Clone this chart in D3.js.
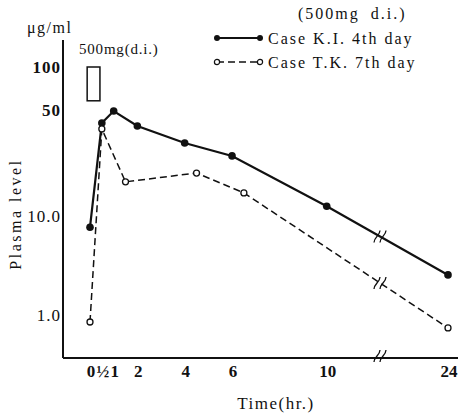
<!DOCTYPE html>
<html>
<head>
<meta charset="utf-8">
<script src="https://cdn.jsdelivr.net/npm/d3@7"></script>
<style>
  body { margin: 0; background: #fff; }
  svg text { font-family: "Liberation Serif", "DejaVu Serif", serif; fill: #111; }
</style>
</head>
<body>
<svg width="461" height="415"></svg>
<script>
//
// data (hours, ug/ml)
//
var timesKI = [0, 0.5, 1, 2, 4, 6, 10, 24];
var levelsKI = [7.7, 41, 49.2, 39.2, 30.3, 24.9, 11.6, 2.54];

var timesTK = [0, 0.5, 1.5, 4.5, 6.5, 24];
var levelsTK = [0.85, 37.5, 16.8, 19.2, 14.2, 0.74];

var xTicks = [0, 0.5, 1, 2, 4, 6, 10, 24];
var xTickLabels = ['0', '½', '1', '2', '4', '6', '10', '24'];
var yTicks = [1, 10, 50, 100];
var yTickLabels = ['1.0', '10.0', '50', '100'];

var seriesNames = ['Case  K.I. 4th  day', 'Case  T.K. 7th  day'];

var svg = d3.select('svg');

// x axis has a break between 10 and 24
var xBreak = 12.25;
var x = d3.scaleLinear()
    .domain([0, xBreak, 24])
    .range([90, 380, 448]);

// the printed log axis is stretched above 10
var y = d3.scaleLog()
    .domain([1, 10, 50, 100])
    .range([315, 216, 110, 67]);

var axisX = 63, axisY = 358;

// axes lines
svg.append('line')
    .attr('x1', axisX).attr('x2', axisX)
    .attr('y1', 40).attr('y2', axisY)
    .attr('stroke', '#111').attr('stroke-width', 2);

svg.append('line')
    .attr('x1', axisX).attr('x2', 458)
    .attr('y1', axisY).attr('y2', axisY)
    .attr('stroke', '#111').attr('stroke-width', 2);

// y tick labels
svg.selectAll('.ylab')
  .data(yTicks)
  .enter().append('text')
    .attr('class', 'ylab')
    .attr('x', 61)
    .attr('y', function(d) { return y(d) + 6; })
    .attr('text-anchor', 'end')
    .style('font-size', '17px')
    .style('font-weight', function(d) { return d >= 50 ? 'bold' : 'normal'; })
    .style('letter-spacing', '1px')
    .text(function(d, i) { return yTickLabels[i]; });

// x tick labels
svg.selectAll('.xlab')
  .data(xTicks)
  .enter().append('text')
    .attr('class', 'xlab')
    .attr('x', function(d) { return x(d) + 1; })
    .attr('y', 377)
    .attr('text-anchor', 'middle')
    .style('font-size', '17px')
    .style('font-weight', 'bold')
    .text(function(d, i) { return xTickLabels[i]; });

// axis titles
svg.append('text')
    .attr('x', 276).attr('y', 409)
    .attr('text-anchor', 'middle')
    .style('font-size', '17px')
    .style('letter-spacing', '1.5px')
    .text('Time(hr.)');

svg.append('text')
    .attr('transform', 'translate(21,214) rotate(-90)')
    .attr('text-anchor', 'middle')
    .style('font-size', '16px')
    .style('letter-spacing', '2.5px')
    .text('Plasma level');

svg.append('text')
    .attr('x', 27).attr('y', 33)
    .style('font-size', '16px')
    .style('letter-spacing', '1.5px')
    .text('μg/ml');

// dose annotation
svg.append('text')
    .attr('x', 79).attr('y', 54)
    .style('font-size', '15px')
    .style('letter-spacing', '0.8px')
    .text('500mg(d.i.)');

svg.append('rect')
    .attr('x', x(-0.12)).attr('y', y(100))
    .attr('width', x(0.42) - x(-0.12))
    .attr('height', y(58) - y(100))
    .attr('fill', 'none')
    .attr('stroke', '#111').attr('stroke-width', 1.5);

// lines
var line = d3.line()
    .x(function(d) { return x(d[0]); })
    .y(function(d) { return y(d[1]); });

var dataKI = d3.zip(timesKI, levelsKI);
var dataTK = d3.zip(timesTK, levelsTK);

svg.append('path')
    .datum(dataKI)
    .attr('d', line)
    .attr('fill', 'none')
    .attr('stroke', '#111').attr('stroke-width', 2.2);

svg.append('path')
    .datum(dataTK)
    .attr('d', line)
    .attr('fill', 'none')
    .attr('stroke', '#111').attr('stroke-width', 1.5)
    .attr('stroke-dasharray', '7,4');

svg.selectAll('.dotKI')
  .data(dataKI)
  .enter().append('circle')
    .attr('cx', function(d) { return x(d[0]); })
    .attr('cy', function(d) { return y(d[1]); })
    .attr('r', 3.8)
    .attr('fill', '#111');

svg.selectAll('.dotTK')
  .data(dataTK)
  .enter().append('circle')
    .attr('cx', function(d) { return x(d[0]); })
    .attr('cy', function(d) { return y(d[1]); })
    .attr('r', 3)
    .attr('fill', '#fff')
    .attr('stroke', '#111').attr('stroke-width', 1.3);

//
// break marks where the lines and the axis cross the gap
// (interpolate in pixels, the drawn segment is straight on screen)
//
function yAt(data, t) {
  var px = x(t);
  for (var i = 1; i < data.length; i++) {
    if (data[i][0] >= t) {
      var a = data[i - 1], b = data[i];
      var f = (px - x(a[0])) / (x(b[0]) - x(a[0]));
      return y(a[1]) + f * (y(b[1]) - y(a[1]));
    }
  }
}

function breakMark(cx, cy) {
  [-3, 3].forEach(function(dx) {
    var px = cx + dx;
    svg.append('path')
      .attr('d', 'M' + (px - 3) + ',' + (cy + 6) +
                 ' C' + (px - 3) + ',' + (cy + 1) + ' ' + (px + 3) + ',' + (cy - 1) +
                 ' ' + (px + 3) + ',' + (cy - 6))
      .attr('fill', 'none')
      .attr('stroke', '#111').attr('stroke-width', 1.3);
  });
}

breakMark(x(xBreak), axisY - 2);
breakMark(x(xBreak), yAt(dataKI, xBreak));
breakMark(x(xBreak), yAt(dataTK, xBreak));

// legend
svg.append('text')
    .attr('x', 298).attr('y', 19)
    .style('font-size', '16px')
    .style('letter-spacing', '2px')
    .style('word-spacing', '5px')
    .text('(500mg  d.i.)');

var legend = svg.selectAll('.legend')
  .data(seriesNames)
  .enter().append('g')
    .attr('class', 'legend')
    .attr('transform', function(d, i) { return 'translate(0,' + (38 + i * 24) + ')'; });

legend.append('line')
    .attr('x1', 217).attr('x2', 260)
    .attr('stroke', '#111')
    .attr('stroke-width', function(d, i) { return i == 0 ? 2.2 : 1.5; })
    .attr('stroke-dasharray', function(d, i) { return i == 0 ? null : '7,4'; });

legend.selectAll('circle')
  .data(function(d, i) { return [[217, i], [260, i]]; })
  .enter().append('circle')
    .attr('cx', function(d) { return d[0]; })
    .attr('r', function(d) { return d[1] == 0 ? 3 : 2.6; })
    .attr('fill', function(d) { return d[1] == 0 ? '#111' : '#fff'; })
    .attr('stroke', '#111')
    .attr('stroke-width', function(d) { return d[1] == 0 ? 0 : 1.2; });

legend.append('text')
    .attr('x', 268).attr('y', 6)
    .style('font-size', '16px')
    .style('letter-spacing', '2px')
    .text(function(d) { return d; });
</script>
</body>
</html>
